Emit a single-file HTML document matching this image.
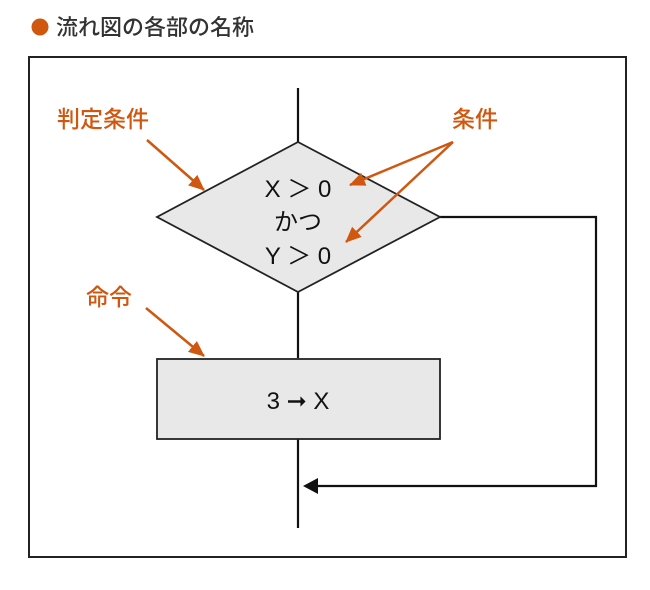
<!DOCTYPE html>
<html><head><meta charset="utf-8"><style>
html,body{margin:0;padding:0;background:#fff;width:650px;height:590px;overflow:hidden}
</style></head><body>
<svg width="650" height="590" xmlns="http://www.w3.org/2000/svg">
<defs>
<marker id="oa" markerWidth="16" markerHeight="14" refX="15" refY="7" orient="auto" markerUnits="userSpaceOnUse" viewBox="0 0 16 14">
<path d="M0,0 L16,7 L0,14 z" fill="#d0570f"/></marker>
</defs>
<circle cx="40" cy="27" r="8.5" fill="#d0570f"/>
<text x="56" y="35" font-family="'Liberation Sans','Noto Sans CJK JP',sans-serif" font-size="22" font-weight="500" fill="#333">流れ図の各部の名称</text>
<rect x="29" y="57" width="597" height="500" fill="none" stroke="#222" stroke-width="2"/>
<g stroke="#111" stroke-width="2.2" fill="none">
<line x1="298" y1="88" x2="298" y2="142"/>
<line x1="298" y1="292" x2="298" y2="358"/>
<line x1="298" y1="438" x2="298" y2="528"/>
<polyline points="440,217 596,217 596,486 318,486"/>
</g>
<path d="M303,486 L318,478 L318,494 z" fill="#111"/>
<polygon points="298,142 440,217 298,292 157,217" fill="#e8e8e8" stroke="#222" stroke-width="1.8"/>
<rect x="157" y="359" width="283" height="80" fill="#e8e8e8" stroke="#222" stroke-width="1.8"/>
<g font-family="'Liberation Sans','Noto Sans CJK JP',sans-serif" font-size="24" fill="#111" text-anchor="middle">
<text x="298" y="197">X ＞ 0</text>
<text x="298" y="230">かつ</text>
<text x="298" y="264">Y ＞ 0</text>
<text x="298" y="409">3 ➞ X</text>
</g>
<g font-family="'Liberation Sans','Noto Sans CJK JP',sans-serif" font-size="23" font-weight="500" fill="#d0570f">
<text x="57" y="127">判定条件</text>
<text x="452" y="127">条件</text>
<text x="86" y="305">命令</text>
</g>
<g stroke="#d0570f" stroke-width="2.5" marker-end="url(#oa)">
<line x1="147" y1="140" x2="204" y2="190"/>
<line x1="453" y1="142" x2="350" y2="185"/>
<line x1="453" y1="142" x2="346" y2="242"/>
<line x1="146" y1="308" x2="204" y2="356"/>
</g>
</svg>
</body></html>
